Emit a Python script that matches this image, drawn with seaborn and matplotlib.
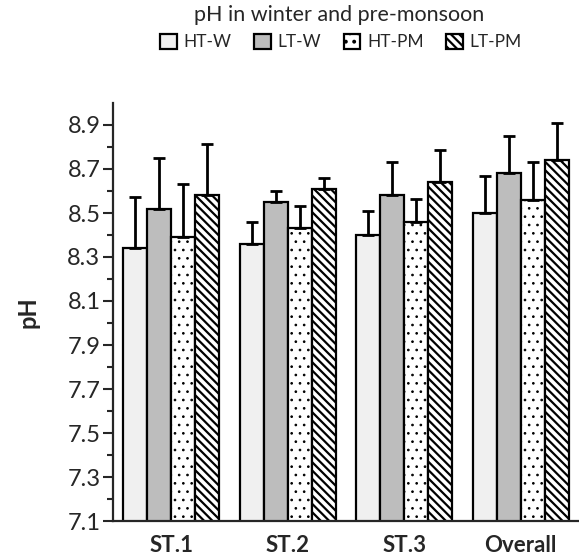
import numpy as np
import pandas as pd
import matplotlib
matplotlib.use("Agg")
import matplotlib.pyplot as plt
import seaborn as sns
from matplotlib.ticker import FixedLocator

sites = ["ST.1", "ST.2", "ST.3", "Overall"]
seasons = ["HT-W", "LT-W", "HT-PM", "LT-PM"]
ht_w = [8.34, 8.36, 8.40, 8.50]
lt_w = [8.52, 8.55, 8.58, 8.68]
ht_pm = [8.39, 8.43, 8.46, 8.56]
lt_pm = [8.58, 8.61, 8.64, 8.74]
ht_w_err = [0.235, 0.10, 0.11, 0.17]
lt_w_err = [0.23, 0.05, 0.15, 0.17]
ht_pm_err = [0.24, 0.10, 0.105, 0.17]
lt_pm_err = [0.235, 0.05, 0.145, 0.17]

values = [ht_w, lt_w, ht_pm, lt_pm]
errors = [ht_w_err, lt_w_err, ht_pm_err, lt_pm_err]

rows = []
for s, vals in zip(seasons, values):
    for site, v in zip(sites, vals):
        rows.append({"site": site, "season": s, "pH": v})
df = pd.DataFrame(rows)

sns.set_style("ticks")
plt.rcParams["font.family"] = ["Lato", "DejaVu Sans"]
plt.rcParams["hatch.linewidth"] = 1.6

fig = plt.figure(figsize=(5.79, 5.56), dpi=100)
ax = fig.add_axes([113 / 579, 1 - 521 / 556, 1 - 113 / 579, (521 - 103) / 556])

face = ["#f0f0f0", "#bdbdbd", "#ffffff", "#ffffff"]
hatches = [None, None, "..", "\\\\\\\\"]
hatch_lw = [1.0, 1.0, 0.7, 1.6]

sns.barplot(data=df, x="site", y="pH", hue="season", order=sites, hue_order=seasons,
            palette=face, width=0.82, errorbar=None, edgecolor="black", linewidth=1.6,
            saturation=1, ax=ax, legend=False)

bar_conts = list(ax.containers)
for cont, h, fc, hl, errs in zip(bar_conts, hatches, face, hatch_lw, errors):
    xs, ys = [], []
    for p in cont.patches:
        p.set_facecolor(fc)
        if h:
            p.set_hatch(h)
            if hasattr(p, "set_hatch_linewidth"):
                p.set_hatch_linewidth(hl)
        xs.append(p.get_x() + p.get_width() / 2)
        ys.append(p.get_height())
    ax.errorbar(xs, ys, yerr=[np.zeros(len(errs)), errs], fmt="none", ecolor="black",
                elinewidth=2, capsize=4, capthick=2, zorder=1)

ax.set_ylim(7.1, 9.0)
ax.set_xlim(-0.5, 3.5)
ax.yaxis.set_major_locator(FixedLocator(np.arange(7.1, 8.95, 0.2)))
ax.yaxis.set_minor_locator(FixedLocator(np.arange(7.2, 9.0, 0.2)))
ax.set_yticklabels([f"{v:.1f}" for v in np.arange(7.1, 8.95, 0.2)])
ax.tick_params(axis="y", which="major", length=7, width=1.5, labelsize=17, pad=2)
ax.tick_params(axis="y", which="minor", length=4, width=1.5)
ax.tick_params(axis="x", length=0, labelsize=16, pad=10)
for lab in ax.get_xticklabels():
    lab.set_fontweight("bold")
ax.set_xlabel("")
ax.set_ylabel("pH", fontsize=17, fontweight="bold", labelpad=20)
for side in ["top", "right"]:
    ax.spines[side].set_visible(False)
for side in ["left", "bottom"]:
    ax.spines[side].set_linewidth(1.6)

fig.text(339 / 579, 1 - 15 / 556, "pH in winter and pre-monsoon", ha="center", va="center", fontsize=15.5)
handles = [c.patches[0] for c in bar_conts]
fig.legend(handles, seasons, loc="center", bbox_to_anchor=(341 / 579, 1 - 42 / 556), ncol=4,
           frameon=False, fontsize=12.5, handlelength=0.95, handleheight=0.95, handletextpad=0.4,
           columnspacing=1.3, borderpad=0)

fig.savefig("out.png", dpi=100)
